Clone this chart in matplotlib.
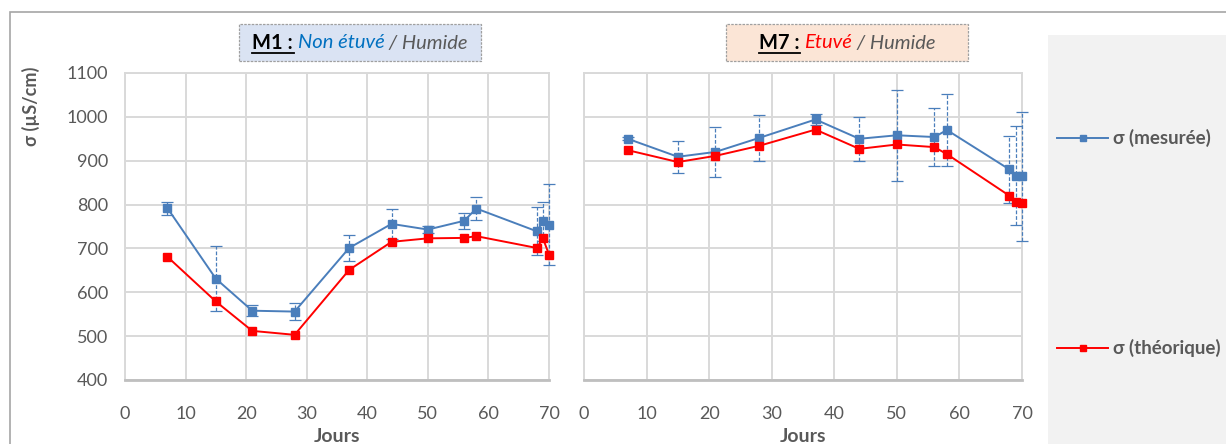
import numpy as np
import matplotlib.pyplot as plt
from matplotlib.patches import Rectangle
from matplotlib.lines import Line2D

plt.rcParams['font.family'] = ['Lato', 'DejaVu Sans']

# Days of measurement (same for both samples)
jours = [7, 15, 21, 28, 37, 44, 50, 56, 58, 68, 69, 70]

# M1 : non etuve / humide
m1_mesure = [792, 631, 558, 556, 701, 756, 743, 763, 791, 739, 762, 754]
m1_err = [15, 74, 12, 20, 30, 35, 8, 18, 27, 55, 45, 92]
m1_theo = [681, 579, 512, 503, 651, 715, 723, 724, 728, 701, 723, 686]

# M7 : etuve / humide
m7_mesure = [950, 909, 920, 952, 994, 950, 958, 954, 970, 880, 866, 865]
m7_err = [3, 37, 57, 53, 13, 50, 104, 67, 83, 76, 113, 147]
m7_theo = [924, 897, 911, 934, 971, 927, 937, 931, 915, 820, 807, 804]

W, H = 1226, 444
BLUE = '#4a7ebb'
RED = '#ff0000'
GREY_TXT = '#595959'

fig = plt.figure(figsize=(W / 100, H / 100), dpi=100)


def px_rect(x0, y0, x1, y1):
    # pixel box (top-left origin) -> figure fraction rect
    return [x0 / W, 1 - y1 / H, (x1 - x0) / W, (y1 - y0) / H]


# outer chart frame and legend panel
fig.patches.append(Rectangle((10 / W, -0.1), 1.2, 1 - 12 / H + 0.1,
                             transform=fig.transFigure, fill=False,
                             edgecolor='#a6a6a6', lw=1.2, zorder=0))
fig.patches.append(Rectangle((1048 / W, 0), (W - 1048) / W, 1 - 35 / H,
                             transform=fig.transFigure, facecolor='#f2f2f2',
                             edgecolor='none', zorder=0))

ax1 = fig.add_axes(px_rect(125, 73, 549, 380))
ax2 = fig.add_axes(px_rect(584, 73, 1022, 380))

for ax, mes, err, theo in [(ax1, m1_mesure, m1_err, m1_theo),
                           (ax2, m7_mesure, m7_err, m7_theo)]:
    ax.set_xlim(0, 70)
    ax.set_ylim(400, 1100)
    ax.set_xticks(range(0, 71, 10))
    ax.set_yticks(range(400, 1101, 100))
    ax.grid(True, color='#d9d9d9', lw=1.4)
    ax.set_axisbelow(True)
    for s in ['top', 'right', 'left']:
        ax.spines[s].set_color('#d9d9d9')
        ax.spines[s].set_linewidth(1.4)
    ax.spines['bottom'].set_color('#bfbfbf')
    ax.spines['bottom'].set_linewidth(2)
    ax.tick_params(length=0, labelsize=13, labelcolor=GREY_TXT, pad=12)
    ax.tick_params(axis='x', pad=19)
    ax.set_xlabel('Jours', fontsize=14, fontweight='bold', color=GREY_TXT,
                  labelpad=4)

    eb = ax.errorbar(jours, mes, yerr=err, color=BLUE, ecolor=BLUE,
                     elinewidth=0.9, capsize=4, capthick=0.9,
                     marker='s', ms=5.2, lw=1.4, clip_on=False, zorder=4)
    eb[2][0].set_linestyle((0, (3, 1.5)))
    ax.plot(jours, theo, color=RED, marker='s', ms=5.2, lw=1.4,
            clip_on=False, zorder=5)

ax2.tick_params(labelleft=False)
ax1.set_ylabel('σ (µS/cm)', fontsize=13, fontweight='bold', color=GREY_TXT)
ax1.yaxis.set_label_coords(-0.2, 0.89)


def title_box(xc, yc, parts, face):
    # several text runs laid side by side, then a box drawn around them
    r = fig.canvas.get_renderer()
    items = []
    total = 0
    for txt, kw in parts:
        t = fig.text(0, 1 - yc / H, txt, fontsize=14.5, va='center',
                     zorder=3, **kw)
        w = t.get_window_extent(r).width
        items.append((t, w))
        total += w
    x = xc - total / 2
    for t, w in items:
        t.set_x(x / W)
        x += w
    # underline under the sample name
    t0, w0 = items[0]
    x0 = t0.get_position()[0] * W
    fig.lines.append(Line2D(np.array([x0, x0 + w0 - 4]) / W,
                            [1 - (yc + 10) / H] * 2,
                            transform=fig.transFigure, color='black', lw=1.3))
    fig.patches.append(Rectangle(((xc - 121) / W, 1 - 61 / H), 242 / W, 37 / H,
                                 transform=fig.transFigure, facecolor=face,
                                 edgecolor='#a0a0a0', lw=0.9, ls=(0, (2, 1)),
                                 zorder=1))


title_box(360, 43, [('M1 : ', dict(fontweight='bold', color='black')),
                    ('Non étuvé', dict(style='italic', color='#0070c0')),
                    (' / Humide', dict(style='italic', color=GREY_TXT))],
          '#dae3f3')
title_box(847, 43, [('M7 : ', dict(fontweight='bold', color='black')),
                    ('Etuvé', dict(style='italic', color=RED)),
                    (' / Humide', dict(style='italic', color=GREY_TXT))],
          '#fbe5d6')

# legend entries in the side panel
for y, c, lab in [(138, BLUE, 'σ (mesurée)'), (348, RED, 'σ (théorique)')]:
    fig.lines.append(Line2D([1057 / W, 1108 / W], [1 - y / H] * 2,
                            transform=fig.transFigure, color=c, lw=1.4))
    fig.lines.append(Line2D([1083 / W], [1 - y / H], transform=fig.transFigure,
                            color=c, marker='s', ms=5))
    fig.text(1113 / W, 1 - y / H, lab, fontsize=13.5, fontweight='bold',
             color=GREY_TXT, va='center')

fig.savefig('out.png', dpi=100)
